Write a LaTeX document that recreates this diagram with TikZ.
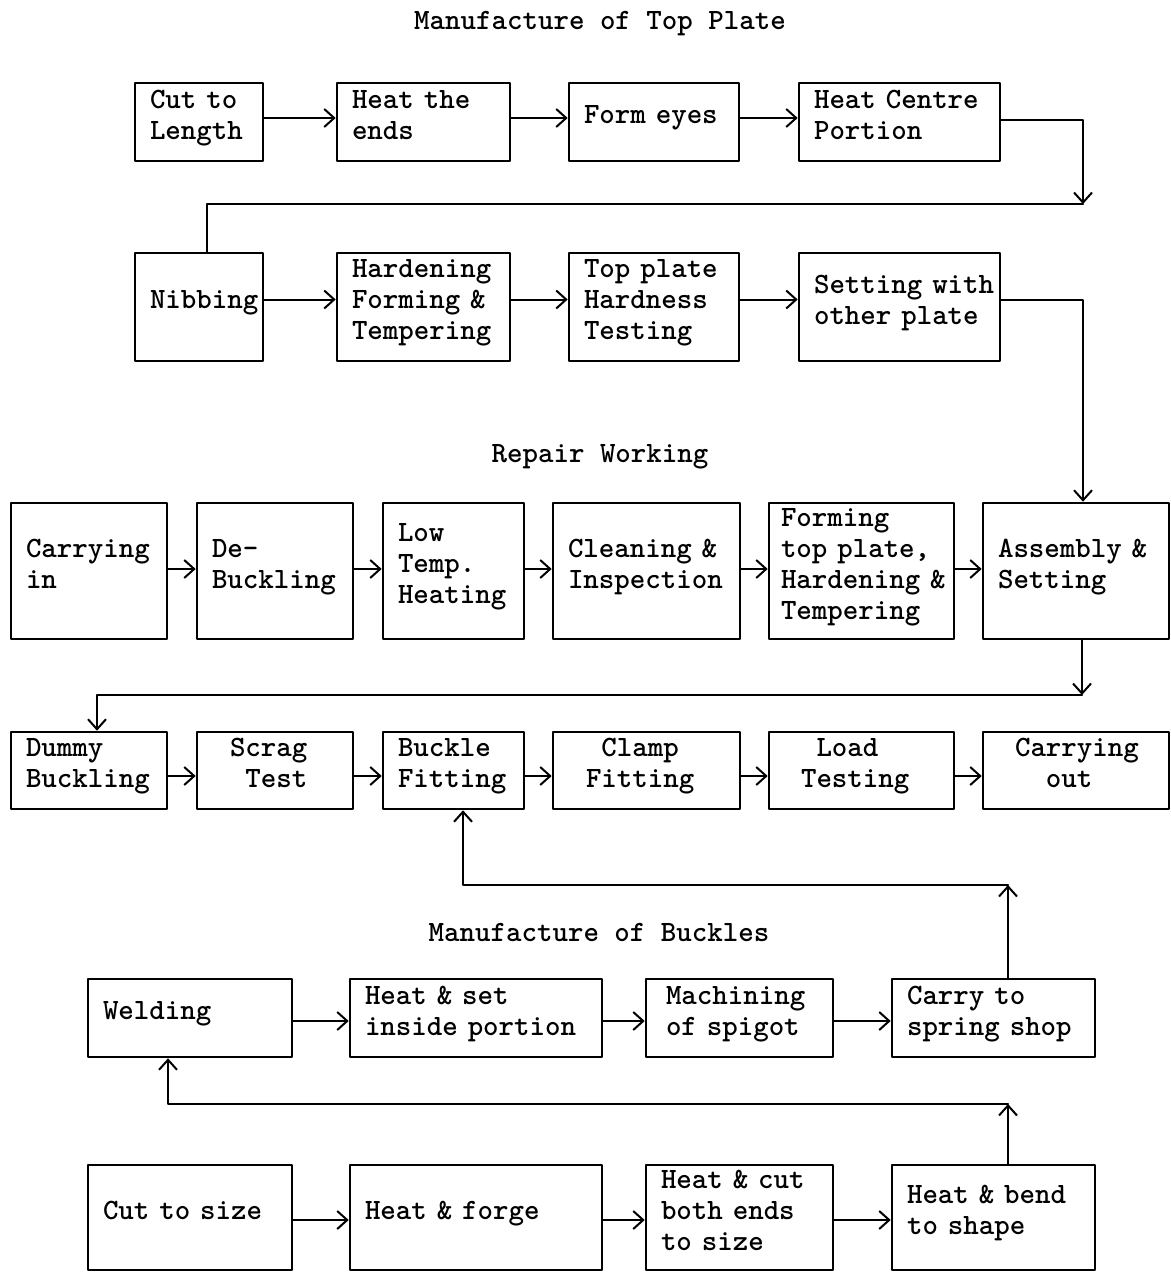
\documentclass[tikz,border=0pt]{standalone}
\usetikzlibrary{arrows.meta}
\begin{document}
\begin{tikzpicture}[x=0.5pt, y=-0.5pt, line join=round, line cap=round,
	font={\ttfamily\bfseries\fontsize{14.75}{15.5}\selectfont},
	box/.style={draw, line width=1.3pt, inner xsep=0pt, inner ysep=0pt, align=left,
		execute at end node={\rule[-7.5pt]{0pt}{0pt}}},
	ln/.style={line width=1pt},
	arr/.style={ln, -{Straight Barb[length=5pt, width=9pt]}}]

	\useasboundingbox (0,0) rectangle (1171,1273);

	% Tieu de ba phan
	\node (t1) at (600,24) {Manufacture of Top Plate};
	\node (t2) at (600,457) {Repair Working};
	\node (t3) at (599,932) {Manufacture of Buckles};

	% Hang 1
	\node[box, minimum width=64pt, minimum height=39pt, text width=49pt] (cut) at (199,122) {Cut~to\\Length};
	\node[box, minimum width=86.5pt, minimum height=39pt, text width=71.5pt] (heat) at (423.5,122) {Heat~the\\ends};
	\node[box, minimum width=85pt, minimum height=39pt, text width=70pt] (form) at (654,122) {Form~eyes};
	\node[box, minimum width=100.5pt, minimum height=39pt, text width=85.5pt] (centre) at (899.5,122) {Heat~Centre\\Portion};

	% Hang 2
	\node[box, minimum width=64pt, minimum height=54pt, text width=49pt] (nib) at (199,307) {Nibbing};
	\node[box, minimum width=86.5pt, minimum height=54pt, text width=71.5pt] (hard) at (423.5,307) {Hardening\\Forming~\&\\Tempering};
	\node[box, minimum width=85pt, minimum height=54pt, text width=70pt] (tph) at (654,307) {Top~plate\\Hardness\\Testing};
	\node[box, minimum width=100.5pt, minimum height=54pt, text width=85.5pt] (setw) at (899.5,307) {Setting~with\\other~plate};

	% Hang 3
	\node[box, minimum width=78pt, minimum height=68pt, text width=63pt] (cin) at (89,571) {Carrying\\in};
	\node[box, minimum width=78pt, minimum height=68pt, text width=63pt] (debk) at (275,571) {De-\\Buckling};
	\node[box, minimum width=70.5pt, minimum height=68pt, text width=55.5pt] (ltemp) at (453.5,571) {Low\\Temp.\\Heating};
	\node[box, minimum width=93.5pt, minimum height=68pt, text width=78.5pt] (clean) at (646.5,571) {Cleaning~\&\\Inspection};
	\node[box, minimum width=92.5pt, minimum height=68pt, text width=80.5pt] (ftop) at (861.5,571) {Forming\\top~plate,\\Hardening~\&\\Tempering};
	\node[box, minimum width=93pt, minimum height=68pt, text width=78pt] (assy) at (1076,571) {Assembly~\&\\Setting};

	% Hang 4
	\node[box, minimum width=78pt, minimum height=38.5pt, text width=63pt] (dummy) at (89,770.5) {Dummy\\Buckling};
	\node[box, minimum width=78pt, minimum height=38.5pt, text width=45pt] (scrag) at (275,770.5) {Scrag\\\hphantom{x}Test};
	\node[box, minimum width=70.5pt, minimum height=38.5pt, text width=55.5pt] (buckle) at (453.5,770.5) {Buckle\\Fitting};
	\node[box, minimum width=93.5pt, minimum height=38.5pt, text width=60.5pt] (clamp) at (646.5,770.5) {\hphantom{x}Clamp\\Fitting};
	\node[box, minimum width=92.5pt, minimum height=38.5pt, text width=60.5pt] (load) at (861.5,770.5) {\hphantom{x}Load\\Testing};
	\node[box, minimum width=93pt, minimum height=38.5pt, text width=61pt] (cout) at (1076,770.5) {Carrying\\\hphantom{xx}out};

	% Hang 5
	\node[box, minimum width=102pt, minimum height=39pt, text width=87pt] (weld) at (190,1018) {Welding};
	\node[box, minimum width=126pt, minimum height=39pt, text width=111pt] (hset) at (476,1018) {Heat~\&~set\\inside~portion};
	\node[box, minimum width=93.5pt, minimum height=39pt, text width=73.5pt] (mach) at (739.5,1018) {Machining\\of~spigot};
	\node[box, minimum width=101.5pt, minimum height=39pt, text width=86.5pt] (carry) at (993.5,1018) {Carry~to\\spring~shop};

	% Hang 6
	\node[box, minimum width=102pt, minimum height=52.5pt, text width=87pt] (cut2) at (190,1217.5) {Cut~to~size};
	\node[box, minimum width=126pt, minimum height=52.5pt, text width=111pt] (forge) at (476,1217.5) {Heat~\&~forge};
	\node[box, minimum width=93.5pt, minimum height=52.5pt, text width=78.5pt] (hcut) at (739.5,1217.5) {Heat~\&~cut\\both~ends\\to~size};
	\node[box, minimum width=101.5pt, minimum height=52.5pt, text width=86.5pt] (bend) at (993.5,1217.5) {Heat~\&~bend\\to~shape};

	% Mui ten trong tung hang
	\foreach \a/\b in {cut/heat, heat/form, form/centre}
		\draw[arr] ([yshift=2pt]\a.east) -- ([yshift=2pt]\b.west);
	\foreach \a/\b in {nib/hard, hard/tph, tph/setw}
		\draw[arr] ([yshift=3.75pt]\a.east) -- ([yshift=3.75pt]\b.west);
	\foreach \a/\b in {cin/debk, debk/ltemp, ltemp/clean, clean/ftop, ftop/assy}
		\draw[arr] ([yshift=1pt]\a.east) -- ([yshift=1pt]\b.west);
	\foreach \a/\b in {dummy/scrag, scrag/buckle, buckle/clamp, clamp/load, load/cout}
		\draw[arr] ([yshift=-2.75pt]\a.east) -- ([yshift=-2.75pt]\b.west);
	\foreach \a/\b in {weld/hset, hset/mach, mach/carry}
		\draw[arr] ([yshift=-1.5pt]\a.east) -- ([yshift=-1.5pt]\b.west);
	\foreach \a/\b in {cut2/forge, forge/hcut, hcut/bend}
		\draw[arr] ([yshift=-1.25pt]\a.east) -- ([yshift=-1.25pt]\b.west);

	% Cac goc gap cua duong noi
	\coordinate (k1) at (1083,204);
	\coordinate (k2) at (1082,695);
	\coordinate (k3) at (1008,885);
	\coordinate (k4) at (1008,1104);

	% Duong noi giua cac hang
	\draw[arr] ([yshift=1pt]centre.east) -| (k1);
	\draw[ln] (k1) -| ([xshift=4pt]nib.north);
	\draw[arr] ([yshift=3.5pt]setw.east) -| ([xshift=3.5pt]assy.north);
	\draw[arr] ([xshift=3pt]assy.south) -- (k2);
	\draw[arr] (k2) -| ([xshift=4pt]dummy.north);
	\draw[arr] ([xshift=7.25pt]carry.north) -- (k3);
	\draw[arr] (k3) -| ([xshift=4.75pt]buckle.south);
	\draw[arr] ([xshift=7.25pt]bend.north) -- (k4);
	\draw[arr] (k4) -| ([xshift=-11pt]weld.south);

\end{tikzpicture}
\end{document}
